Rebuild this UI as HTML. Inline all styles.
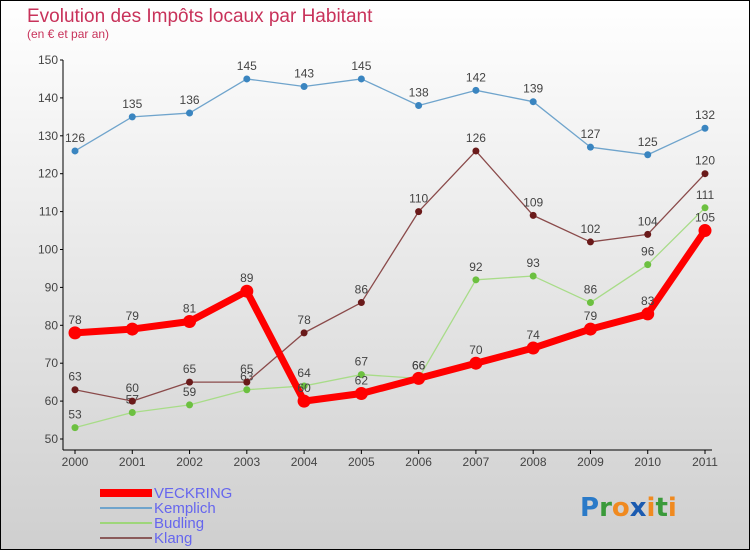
<!DOCTYPE html>
<html><head><meta charset="utf-8"><style>
html,body{margin:0;padding:0}
body{width:750px;height:550px;overflow:hidden;font-family:"Liberation Sans",sans-serif}
</style></head><body>
<svg id="c" width="750" height="550" xmlns="http://www.w3.org/2000/svg">
<defs><linearGradient id="bg" x1="0" y1="0" x2="0" y2="1"><stop offset="0" stop-color="#ffffff"/><stop offset="1" stop-color="#cfcfcf"/></linearGradient></defs>
<rect x="0.5" y="0.5" width="749" height="549" fill="url(#bg)" stroke="#000"/>
<text x="27" y="22" font-size="19" fill="#c8325a">Evolution des Impôts locaux par Habitant</text>
<text x="27" y="38" font-size="12" fill="#c8325a">(en € et par an)</text>
<g id="axes"></g><g id="series"></g>
<g>
<rect x="100" y="489" width="52" height="8" fill="#ff0000"/>
<text x="154" y="498" font-size="15" fill="#6666ee">VECKRING</text>
<line x1="100" y1="508" x2="152" y2="508" stroke="#6fa4cc" stroke-width="2"/>
<text x="154" y="513" font-size="15" fill="#6666ee">Kemplich</text>
<line x1="100" y1="523" x2="152" y2="523" stroke="#9ed67a" stroke-width="2"/>
<text x="154" y="528" font-size="15" fill="#6666ee">Budling</text>
<line x1="100" y1="538" x2="152" y2="538" stroke="#8a5a5a" stroke-width="2"/>
<text x="154" y="543" font-size="15" fill="#6666ee">Klang</text>
</g>
<text x="580" y="516" font-size="26" font-weight="bold" font-family="'DejaVu Sans',sans-serif"><tspan fill="#2a7ac8">P</tspan><tspan fill="#3a9a3a">r</tspan><tspan fill="#f08a20">o</tspan><tspan fill="#1a5ab0">x</tspan><tspan fill="#f08a20">i</tspan><tspan fill="#3a9a3a">t</tspan><tspan fill="#f08a20">i</tspan></text>
</svg>
<script>
const years=["2000","2001","2002","2003","2004","2005","2006","2007","2008","2009","2010","2011"];
const yTicks=[50,60,70,80,90,100,110,120,130,140,150];
const veckring=[78,79,81,89,60,62,66,70,74,79,83,105];
const kemplich=[126,135,136,145,143,145,138,142,139,127,125,132];
const budling=[53,57,59,63,64,67,66,92,93,86,96,111];
const klang=[63,60,65,65,78,86,110,126,109,102,104,120];
const NS="http://www.w3.org/2000/svg";
const X=i=>75+i*(630/11);
const Y=v=>439-(v-50)*3.79;
function mk(t,a,p){const e=document.createElementNS(NS,t);for(const k in a)e.setAttribute(k,a[k]);p.appendChild(e);return e;}
const ax=document.getElementById('axes');
let l=mk('line',{x1:63,y1:60,x2:63,y2:450,stroke:'#000'},ax);


l=mk('line',{x1:63,y1:450,x2:712,y2:450,stroke:'#000'},ax);


yTicks.forEach(v=>{
 mk('line',{x1:60,y1:Y(v),x2:63,y2:Y(v),stroke:'#000'},ax);
 const t=mk('text',{x:58,y:Y(v)+4,'font-size':12,fill:'#444','text-anchor':'end'},ax);t.textContent=v;
 
 
});
years.forEach((y,i)=>{
 mk('line',{x1:X(i),y1:450,x2:X(i),y2:454,stroke:'#000'},ax);
 const t=mk('text',{x:X(i),y:466,'font-size':12,fill:'#444','text-anchor':'middle'},ax);t.textContent=y;
 
 
});
const sg=document.getElementById('series');
function draw(name,vals,col,dot,w,r){
 const g=mk('g',{},sg);
 
 
 const p=mk('polyline',{points:vals.map((v,i)=>X(i)+','+Y(v)).join(' '),fill:'none',stroke:col,'stroke-width':w,'stroke-linejoin':'round'},g);
 
 
 vals.forEach((v,i)=>{
  const c=mk('circle',{cx:X(i),cy:Y(v),r:r,fill:dot},g);
  
  
  const t=mk('text',{x:X(i),y:Y(v)-9,'font-size':12,fill:'#444','text-anchor':'middle'},g);t.textContent=v;
  
  
 });
}
draw('kemplich',kemplich,'#6fa4cc','#3a85c0',1.3,3.5);
draw('budling',budling,'#a8dc88','#6cc040',1.3,3.5);
draw('klang',klang,'#8a4a4a','#6a1a1a',1.3,3.5);
draw('veckring',veckring,'#ff0000','#ff0000',7,6.5);
</script>
</body></html>
